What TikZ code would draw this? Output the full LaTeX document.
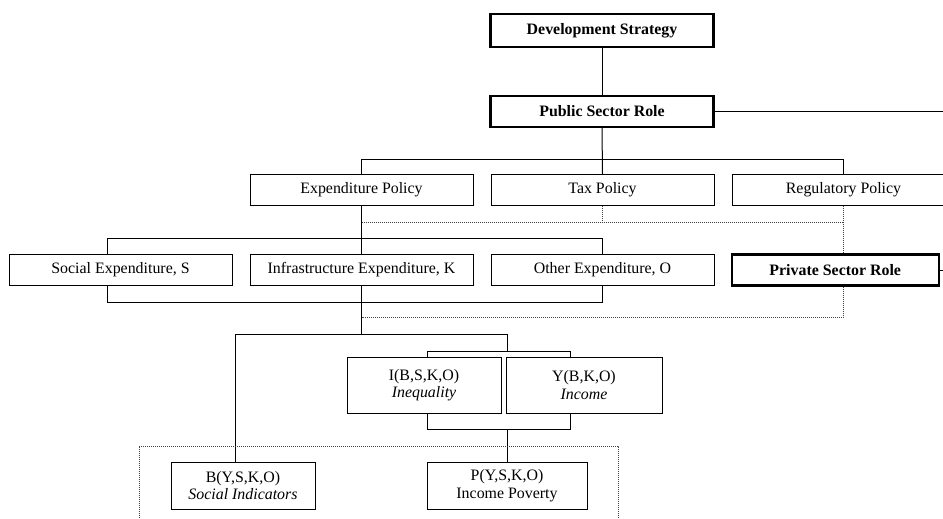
\documentclass[tikz,border=0pt]{standalone}
\usepackage{fontspec}
\setmainfont{Liberation Serif}
\usetikzlibrary{positioning,calc}

\begin{document}
\begin{tikzpicture}[
  x=1pt, y=-1pt,
  font=\fontsize{15.9}{17.5}\selectfont,
  box/.style={draw, line width=1pt, minimum width=223pt, minimum height=31pt, inner sep=2pt, align=center},
  keybox/.style={box, line width=2.4pt, font=\fontsize{15.9}{17.5}\selectfont\bfseries},
  fnbox/.style={box, minimum height=56pt},
  link/.style={line width=1pt},
  dots/.style={line width=0.9pt, dash pattern=on 1pt off 1pt, black!75},
]
\clip (0,0) rectangle (943,519);

% Top of the chain
\node[keybox, minimum height=33pt] (DS)  at (602,30.5)  {Development Strategy};
\node[keybox]                      (PSR) at (602,111.5) {Public Sector Role};

% Policies
\node[box]                   (TP) at (602.5,190) {Tax Policy};
\node[box, left=17pt of TP]  (EP)                {Expenditure Policy};
\node[box, right=17pt of TP] (RP)                {Regulatory Policy};

% Expenditure types and private sector
\node[box]                  (OE) at (602.5,270) {Other Expenditure, O};
\node[box, left=17pt of OE] (IE)                {Infrastructure Expenditure, K};
\node[box, left=17pt of IE] (SE)                {Social Expenditure, S};
\node[keybox, minimum width=207pt, right=16pt of OE] (PRS) {Private Sector Role};

% Outcomes
\node[fnbox, minimum width=154pt] (IN) at (424,385) {I(B,S,K,O)\\\textit{Inequality}};
\node[fnbox, minimum width=156pt] (YI) at (584,385) {Y(B,K,O)\\\textit{Income}};
\node[fnbox, minimum width=160pt, minimum height=47pt] (PV) at (507,485.5) {P(Y,S,K,O)\\Income Poverty};
\node[fnbox, minimum width=144pt, minimum height=47pt] (BI) at (243,485.5) {B(Y,S,K,O)\\\textit{Social Indicators}};

% Helper points for the bars
\coordinate (bar1)  at (0,159);
\coordinate (dotA)  at (0,222);
\coordinate (bar2)  at (107,238);
\coordinate (bar3)  at (107,302);
\coordinate (dotB)  at (0,317);
\coordinate (fork)  at (235,334);
\coordinate (topL)  at (427,351);
\coordinate (topR)  at (570,351);
\coordinate (botL)  at (427,429);
\coordinate (botR)  at (570,429);
\coordinate (frameL) at (139,446);
\coordinate (frameR) at (618,446);

% Solid links
\draw[link] (DS) -- (PSR);
\draw[link] (PSR.east) -- ++(240,0);
\draw[link] (PRS.east) -- ++(20,0);
\draw[link] (PSR.south) -- (TP.north);
\draw[link] (EP.north) -- (EP.north |- bar1) -- (RP.north |- bar1) -- (RP.north);
\draw[link] (EP.south) -- (EP.south |- IE.north);
\draw[link] (bar2 |- SE.north) -- (bar2) -- (OE.north |- bar2) -- (OE.north);
\draw[link] (bar3 |- SE.south) -- (bar3) -- (OE.south |- bar3) -- (OE.south);
\draw[link] (IE.south) -- (IE.south |- fork);
\draw[link] (fork |- BI.north) -- (fork) -- (PV.north |- fork) -- (PV.north |- topL);
\draw[link] (topL |- IN.north) -- (topL) -- (topR) -- (topR |- YI.north);
\draw[link] (botL |- IN.south) -- (botL) -- (botR) -- (botR |- YI.south);
\draw[link] (PV.north |- botL) -- (PV.north);

% Dotted links
\draw[dots] (TP.south) -- (TP.south |- dotA);
\draw[dots] (EP.south |- dotA) -- (RP.south |- dotA);
\draw[dots] (RP.south) -- (RP.south |- PRS.north);
\draw[dots] (RP.south |- PRS.south) -- (RP.south |- dotB) -- (IE.south |- dotB);
\draw[dots] ($(frameL)+(0,80)$) -- (frameL) -- (frameR) -- ++(0,80);

\end{tikzpicture}
\end{document}
